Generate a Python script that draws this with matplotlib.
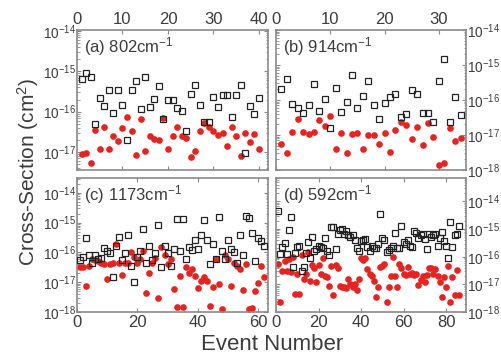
import matplotlib
matplotlib.use("Agg")

import matplotlib.pyplot as plt
import numpy as np
from matplotlib.ticker import LogLocator, NullFormatter

plt.rcParams['font.family'] = ['Liberation Sans', 'DejaVu Sans']
plt.rcParams['mathtext.fontset'] = 'custom'
plt.rcParams['mathtext.rm'] = 'Liberation Sans'
plt.rcParams['mathtext.it'] = 'Liberation Sans:italic'
plt.rcParams['mathtext.bf'] = 'Liberation Sans:bold'

# log10 of cross-section (cm^2), one value per event
# (a) 802 cm-1
a_open = [-15.20, -15.05, -15.15, -16.30, -15.65, -15.85, -15.47, -16.03, -15.45, -15.83,
          -16.70, -15.45, -15.24, -15.93, -15.13, -15.88, -15.68, -15.35, -16.18, -15.70,
          -15.70, -15.90, -15.98, -16.48, -15.57, -15.33, -15.83, -16.25, -16.25, -15.64,
          -15.88, -15.58, -15.58, -16.13, -15.58, -15.33, -17.02, -15.85, -16.05, -15.65]
a_red = [-17.05, -17.03, -17.28, -16.45, -16.92, -16.39, -16.94, -16.61, -16.73, -16.41,
         -16.13, -16.48, -17.07, -16.18, -16.98, -16.60, -16.69, -16.70, -16.15, -16.92,
         -16.60, -16.37, -16.60, -16.66, -17.13, -16.97, -16.47, -16.27, -16.37, -16.48,
         -16.58, -16.53, -16.85, -16.39, -16.60, -17.10, -16.52, -16.75, -16.56, -16.92]

# (b) 914 cm-1
b_open = [-15.69, -15.41, -16.10, -16.22, -16.36, -16.15, -15.53, -16.32, -15.98, -16.80,
          -15.65, -16.34, -16.06, -15.29, -16.23, -15.89, -15.45, -16.13, -16.53, -16.08,
          -15.90, -15.82, -16.48, -16.40, -15.70, -15.83, -16.38, -16.36, -16.62, -15.46,
          -14.84, -16.64, -15.90, -16.43]
b_red = [-17.25, -17.52, -16.90, -16.54, -16.91, -16.96, -16.91, -16.58, -16.75, -16.47,
         -17.41, -16.95, -17.52, -16.97, -16.95, -17.40, -16.99, -16.99, -17.27, -16.94,
         -17.48, -16.86, -16.63, -16.70, -17.10, -16.78, -17.29, -16.67, -17.06, -17.86,
         -17.81, -16.80, -17.18, -17.08]

# (c) 1173 cm-1
c_open = [-16.26, -16.14, -15.51, -16.10, -16.34, -16.10, -16.23, -16.18, -15.84, -15.96,
          -16.01, -16.84, -15.79, -15.48, -16.26, -16.01, -15.40, -16.46, -16.99, -16.14,
          -15.96, -15.21, -16.37, -15.79, -16.26, -16.01, -15.07, -16.49, -15.79, -16.01,
          -16.46, -15.90, -14.87, -15.96, -14.89, -16.23, -15.81, -15.92, -15.57, -15.87,
          -15.43, -14.92, -15.57, -16.39, -15.70, -16.21, -14.81, -15.96, -16.21, -15.57,
          -15.90, -15.97, -16.34, -15.43, -16.10, -14.79, -14.84, -15.34, -16.29, -15.51,
          -15.62, -15.79]
c_red = [-16.48, -16.50, -17.14, -16.46, -16.23, -16.26, -16.30, -16.37, -16.40, -16.90,
         -16.38, -16.34, -15.70, -16.37, -16.77, -16.34, -16.37, -15.97, -16.14, -16.34,
         -16.21, -15.94, -17.37, -16.68, -16.34, -16.17, -17.54, -15.81, -16.10, -16.40,
         -16.23, -17.23, -17.84, -16.79, -17.84, -16.50, -16.68, -16.57, -16.79, -17.21,
         -16.96, -16.84, -16.96, -17.81, -17.17, -16.23, -17.07, -17.90, -16.10, -16.23,
         -17.14, -16.37, -16.46, -16.54, -17.26, -16.40, -17.90, -17.88, -17.31, -17.01,
         -16.46, -16.81]

# (d) 592 cm-1
d_open = [-14.34, -15.90, -15.66, -15.50, -15.89, -15.05, -14.55, -16.38, -15.87, -15.66,
          -15.61, -16.52, -16.38, -15.87, -15.46, -16.05, -15.28, -15.79, -15.73, -15.60,
          -15.64, -15.69, -15.32, -15.81, -15.95, -14.93, -14.94, -15.72, -15.16, -15.05,
          -14.99, -15.18, -15.07, -15.22, -15.28, -15.22, -15.40, -15.69, -15.78, -15.42,
          -15.38, -15.34, -15.66, -15.81, -15.60, -15.70, -15.69, -15.53, -14.46, -15.32,
          -15.40, -15.84, -15.75, -15.69, -15.61, -15.14, -15.69, -15.67, -14.89, -15.46,
          -15.55, -15.40, -15.60, -15.64, -15.08, -15.14, -15.32, -15.20, -15.18, -15.34,
          -15.73, -15.19, -15.28, -15.20, -15.16, -15.60, -15.32, -15.11, -15.44, -15.60,
          -16.05, -14.73, -15.65, -15.20, -15.16, -14.89]
d_red = [-16.28, -17.64, -16.50, -16.16, -16.52, -16.07, -16.54, -16.02, -17.36, -16.61,
         -17.34, -15.95, -16.81, -16.64, -15.84, -16.87, -16.31, -16.40, -16.93, -16.31,
         -16.64, -16.05, -16.68, -16.75, -17.05, -16.34, -17.40, -16.31, -16.42, -17.05,
         -17.11, -17.11, -17.13, -16.81, -16.99, -17.11, -16.99, -17.20, -16.81, -16.05,
         -16.11, -16.05, -16.46, -16.61, -16.69, -16.87, -17.46, -17.11, -16.38, -16.35,
         -16.28, -17.64, -17.11, -16.69, -16.02, -16.69, -17.08, -16.28, -16.40, -16.64,
         -16.66, -16.38, -16.64, -16.58, -16.66, -16.64, -17.04, -16.84, -16.71, -16.93,
         -16.66, -16.42, -16.40, -16.64, -16.45, -16.69, -16.90, -17.44, -16.75, -17.11,
         -16.34, -17.64, -16.72, -17.38, -16.49, -17.40]

panel_labels = ["(a) 802cm$^{-1}$", "(b) 914cm$^{-1}$", "(c) 1173cm$^{-1}$", "(d) 592cm$^{-1}$"]

W, H = 501, 356
fig = plt.figure(figsize=(W / 100, H / 100), dpi=100)

frame_col = "#8a8a8a"
text_col = "#3c3c3c"
red = "#e8231f"

# panel boxes in pixels: left, top, right, bottom
boxes = [(77, 30, 268, 170), (276, 30, 466, 170), (77, 178, 268, 312), (276, 178, 466, 312)]
xlims = [(0, 42), (0, 35), (0, 63.3), (0, 89.4)]
xticks = [[0, 10, 20, 30, 40], [0, 10, 20, 30], [0, 20, 40, 60], [0, 20, 40, 60, 80]]
ylims = [(-17.45, -13.97), (-18, -14), (-18, -13.5), (-18, -13.15)]
ydecades = [[-17, -16, -15, -14], [-18, -17, -16, -15, -14],
            [-18, -17, -16, -15, -14], [-18, -17, -16, -15, -14]]
series = [(a_open, a_red), (b_open, b_red), (c_open, c_red), (d_open, d_red)]

for i, (box, (op, rd)) in enumerate(zip(boxes, series)):
    l, t, r, b = box
    ax = fig.add_axes([l / W, 1 - b / H, (r - l) / W, (b - t) / H])
    ax.set_yscale("log")

    x_op = np.arange(1, len(op) + 1)
    x_rd = np.arange(1, len(rd) + 1)
    ax.plot(x_op, 10 ** np.array(op), ls="none", marker="s", ms=3.9,
            mfc="none", mec="#222222", mew=0.9, zorder=3)
    ax.plot(x_rd, 10 ** np.array(rd), ls="none", marker="o", ms=4.8,
            mfc=red, mec=red, mew=0, zorder=2)

    ax.set_xlim(*xlims[i])
    ax.set_ylim(10 ** ylims[i][0], 10 ** ylims[i][1])
    ax.set_xticks(xticks[i])
    ax.set_yticks([10.0 ** d for d in ydecades[i]])
    ax.set_yticklabels([f"10$^{{{d}}}$" for d in ydecades[i]])
    ax.yaxis.set_minor_locator(LogLocator(base=10, subs=np.arange(2, 10), numticks=20))
    ax.yaxis.set_minor_formatter(NullFormatter())

    for s in ax.spines.values():
        s.set_color(frame_col)
        s.set_linewidth(1.2)

    top_row = i < 2
    ax.tick_params(which="both", direction="in", colors=frame_col,
                   labelcolor=text_col,
                   top=True, bottom=True, left=True, right=True,
                   labeltop=top_row, labelbottom=not top_row,
                   labelleft=(i % 2 == 0), labelright=(i % 2 == 1))
    ax.tick_params(which="major", length=3, width=0.8)
    ax.tick_params(which="minor", length=1.8, width=0.6)
    ax.tick_params(axis="y", labelsize=9.8, pad=0.8)
    ax.tick_params(axis="x", labelsize=12, pad=2)

    ax.text(0.035, 0.88, panel_labels[i], transform=ax.transAxes,
            ha="left", va="center", fontsize=12, color=text_col)

fig.text(28 / W, 1 - 172 / H, "Cross-Section (cm$^2$)", rotation=90,
         ha="center", va="center", fontsize=15, color=text_col)
fig.text(272 / W, 1 - 344 / H, "Event Number", ha="center", va="center",
         fontsize=16, color=text_col)

fig.savefig("out.png", dpi=100)
